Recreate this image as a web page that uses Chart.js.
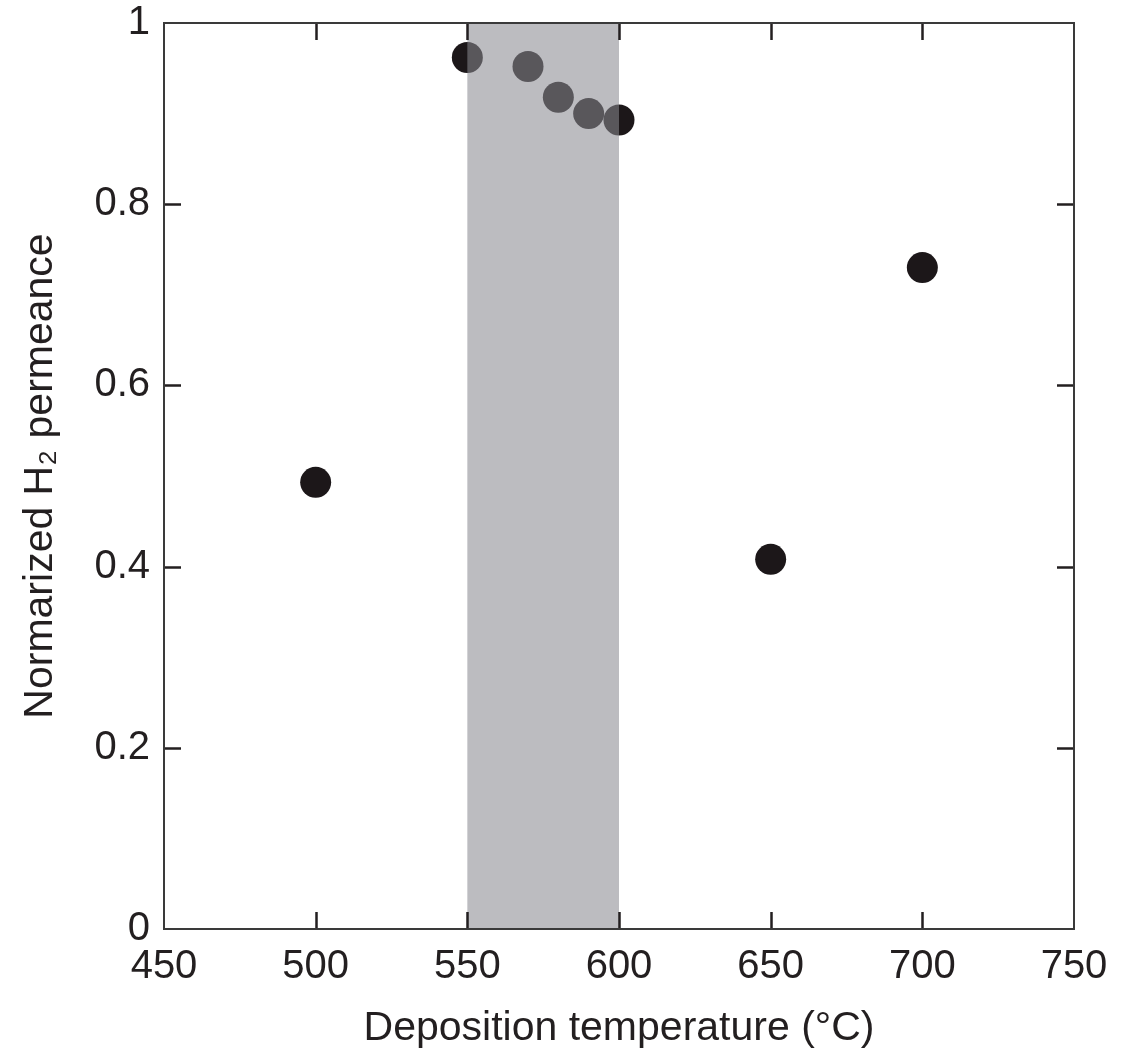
<!DOCTYPE html>
<html lang="en">
<head>
	<meta charset="UTF-8">
	<title>H2 permeance</title>
	<script src="https://cdn.jsdelivr.net/npm/chart.js@4.4.1/dist/chart.umd.min.js"></script>
	<style>
		body { margin: 0; background: #fff; }
		#wrap { width: 1134px; height: 1048px; }
	</style>
</head>
<body>
	<div id="wrap"><canvas id="myChart" width="1134" height="1048"></canvas></div>

	<script>
	// deposition temperature (C) and normalized permeance
	let temps = [500, 550, 570, 580, 590, 600, 650, 700]
	let perm = [0.493, 0.962, 0.952, 0.918, 0.900, 0.893, 0.408, 0.730]
	// shaded band on x axis
	let bandRange = [550, 600]
	let xTicks = [450, 500, 550, 600, 650, 700, 750]
	let yTicks = [0, 0.2, 0.4, 0.6, 0.8, 1]

	let ink = '#231f20'
	let font = "'Liberation Sans', Arial, sans-serif"

	// band drawn over the points, semi transparent
	let bandPlugin = {
		id: 'band',
		afterDatasetsDraw(chart) {
			let ctx = chart.ctx, a = chart.chartArea, x = chart.scales.x
			let x0 = x.getPixelForValue(bandRange[0]), x1 = x.getPixelForValue(bandRange[1])
			ctx.save()
			ctx.fillStyle = 'rgba(136, 137, 143, 0.565)'
			ctx.fillRect(x0, a.top, x1 - x0, a.bottom - a.top)
			ctx.restore()
		}
	}

	// frame + inward ticks on all four sides
	let framePlugin = {
		id: 'frame',
		afterDraw(chart) {
			let ctx = chart.ctx, a = chart.chartArea
			let x = chart.scales.x, y = chart.scales.y
			let len = 17
			ctx.save()
			ctx.strokeStyle = ink
			ctx.lineWidth = 2.5
			xTicks.slice(1, -1).forEach(v => {
				let px = Math.round(x.getPixelForValue(v)) + 0.5
				ctx.beginPath()
				ctx.moveTo(px, a.bottom); ctx.lineTo(px, a.bottom - len)
				ctx.moveTo(px, a.top); ctx.lineTo(px, a.top + len)
				ctx.stroke()
			})
			yTicks.slice(1, -1).forEach(v => {
				let py = Math.round(y.getPixelForValue(v)) + 0.5
				ctx.beginPath()
				ctx.moveTo(a.left, py); ctx.lineTo(a.left + len, py)
				ctx.moveTo(a.right, py); ctx.lineTo(a.right - len, py)
				ctx.stroke()
			})
			ctx.strokeStyle = '#3a3a3a'
			ctx.lineWidth = 2
			ctx.strokeRect(a.left, a.top, a.right - a.left, a.bottom - a.top)
			ctx.restore()
		}
	}

	var ctx = document.getElementById('myChart').getContext('2d')
	var chart = new Chart(ctx, {
		type: 'scatter',
		data: {
			datasets: [{
				data: temps.map((t, i) => ({ x: t, y: perm[i] })),
				pointRadius: 15.5,
				pointBackgroundColor: '#1c1719',
				pointBorderWidth: 0,
				clip: false
			}]
		},
		options: {
			responsive: false,
			animation: false,
			layout: { padding: { left: 12, top: 23, right: 60, bottom: 0 } },
			plugins: {
				legend: { display: false },
				tooltip: { enabled: false }
			},
			scales: {
				x: {
					type: 'linear',
					min: 450, max: 750,
					afterBuildTicks: s => { s.ticks = xTicks.map(v => ({ value: v })) },
					afterFit: s => { s.height = 119; s.paddingLeft = 0; s.paddingRight = 0 },
					grid: { display: false, drawTicks: false },
					border: { display: false },
					ticks: { color: ink, padding: 14, font: { family: font, size: 40 }, maxRotation: 0 },
					title: { display: true, text: 'Deposition temperature (°C)', color: ink, padding: { top: 10, bottom: -5 }, font: { family: font, size: 41 } }
				},
				y: {
					min: 0, max: 1,
					afterBuildTicks: s => { s.ticks = yTicks.map(v => ({ value: v })) },
					afterFit: s => { s.width = 152; s.paddingTop = 0; s.paddingBottom = 0 },
					grid: { display: false, drawTicks: false },
					border: { display: false },
					ticks: { color: ink, padding: 14, font: { family: font, size: 40 }, callback: v => String(v) },
					title: { display: true, text: 'Normarized H₂ permeance', color: ink, padding: { bottom: 8 }, font: { family: font, size: 41 } }
				}
			}
		},
		plugins: [bandPlugin, framePlugin]
	})
	</script>
</body>
</html>
